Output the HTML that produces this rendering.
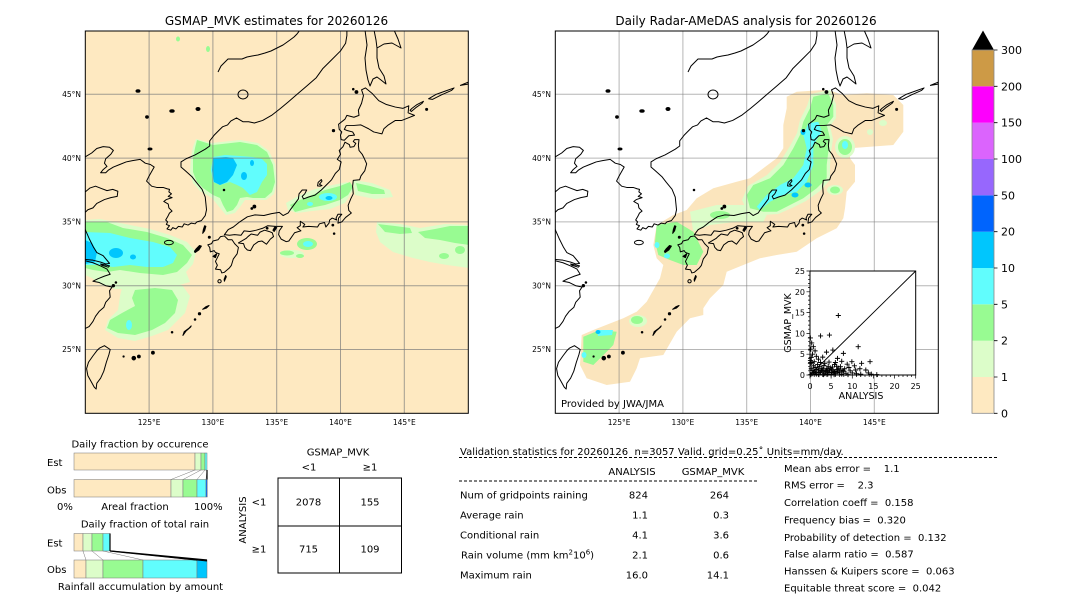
<!DOCTYPE html>
<html><head><meta charset="utf-8"><style>
html,body{margin:0;padding:0;background:#fff;}
svg{display:block;font-family:"DejaVu Sans","Liberation Sans",sans-serif;}
</style></head><body>
<svg width="1080" height="612" viewBox="0 0 1080 612" xmlns="http://www.w3.org/2000/svg" xmlns:xlink="http://www.w3.org/1999/xlink">
<defs>
<clipPath id="clipL"><rect x="85.3" y="31" width="383" height="382.3"/></clipPath>
<clipPath id="clipR"><rect x="555.3" y="31" width="383" height="382.3"/></clipPath>
<path id="pl" d="M-0.6 0H0.6M0 -0.6V0.6" stroke="#000" stroke-width="0.22" fill="none"/>
<g id="coast" fill="none" stroke="#000" stroke-linejoin="round">
 <g transform="translate(85.3,413.3) scale(12.76,-12.76) translate(-120,-20)" stroke-width="0.078">
  <polygon points="130.9,34.0 131.2,34.4 131.6,34.6 132.1,35.0 132.7,35.4 133.3,35.55 134.0,35.5 134.6,35.65 135.2,35.75 135.5,35.5 135.9,35.7 136.1,36.0 136.4,36.4 136.7,36.8 136.75,37.2 137.0,37.5 137.35,37.5 137.2,37.2 137.0,37.0 137.1,36.8 137.5,36.95 138.0,37.1 138.5,37.5 138.9,37.9 139.3,38.3 139.6,38.8 139.9,39.1 140.05,39.7 139.75,39.9 140.0,40.3 139.9,40.6 140.2,40.9 140.35,41.25 140.7,41.05 140.75,40.85 141.05,40.9 141.2,41.15 141.0,41.3 141.1,41.45 141.45,41.45 141.4,41.0 141.45,40.6 141.7,40.3 141.85,40.0 142.05,39.55 141.9,39.0 141.6,38.6 141.5,38.3 141.0,38.25 140.95,37.8 141.0,37.2 140.8,36.8 140.6,36.3 140.65,35.9 140.85,35.7 140.4,35.35 140.1,35.0 139.8,34.9 139.85,35.3 140.1,35.6 139.8,35.6 139.65,35.3 139.7,35.15 139.35,35.3 139.15,35.15 139.1,34.9 138.85,34.6 138.75,34.95 138.35,34.85 138.2,34.6 137.5,34.65 137.05,34.6 137.2,34.8 136.85,35.05 136.85,34.7 136.6,34.55 136.9,34.3 136.4,34.15 135.95,33.5 135.75,33.45 135.35,33.65 135.15,34.0 135.2,34.3 135.45,34.65 134.9,34.65 134.3,34.7 133.9,34.5 133.4,34.35 132.9,34.25 132.45,34.3 132.2,33.95 131.7,34.0 131.3,33.95"/>
  <polygon points="130.9,33.9 131.2,33.6 131.5,33.6 131.7,33.3 132.0,33.0 131.9,32.5 131.6,32.1 131.45,31.6 131.3,31.4 130.9,31.05 130.7,31.0 130.6,31.25 130.2,31.3 130.35,31.6 130.2,31.9 130.5,32.5 130.2,32.6 130.1,32.75 129.8,32.65 129.75,33.0 129.6,33.2 129.9,33.3 130.0,33.5 130.4,33.6 130.6,33.85"/>
  <polygon points="140.05,41.45 140.3,41.4 140.65,41.75 141.1,41.8 140.95,42.05 140.55,42.15 140.3,42.25 140.45,42.55 140.95,42.55 141.6,42.6 142.2,42.3 142.6,42.05 143.25,41.9 143.4,42.3 143.75,42.6 144.3,42.95 144.8,42.95 145.3,43.15 145.8,43.35 145.3,43.55 145.35,44.1 144.9,43.9 144.3,44.0 143.6,44.2 143.0,44.5 142.5,45.05 141.95,45.5 141.65,45.35 141.8,44.9 141.65,44.3 141.4,43.75 141.45,43.35 141.05,43.2 140.5,43.35 140.35,43.05 139.85,42.65 139.9,42.25 140.1,42.05 140.0,41.8"/>
  <polygon points="132.0,33.35 132.6,33.7 132.75,33.85 133.0,34.05 133.5,33.95 133.7,34.2 134.05,34.35 134.4,34.25 134.65,34.15 134.75,33.85 134.5,33.65 134.2,33.25 133.85,33.5 133.55,33.45 133.2,33.2 132.95,32.75 132.7,32.8 132.5,33.0 132.4,33.3"/>
  <polyline points="120.0,40.1 120.5,40.4 120.9,40.75 121.4,40.9 121.9,40.85 122.2,40.6 122.0,40.3 121.6,39.95 121.5,39.6 121.7,39.35 121.4,39.1 121.2,38.85 121.6,38.85 121.8,39.05 122.2,39.3 122.7,39.5 123.2,39.7 123.7,39.8 124.3,39.9 124.7,39.6 125.1,39.5 125.4,39.3 125.2,38.95 125.0,38.6 124.8,38.2 125.2,37.8 125.6,37.7 126.1,37.7 126.4,37.6 126.6,37.55 126.55,37.35 126.75,37.2 126.5,37.0 126.8,36.9 126.35,36.75 126.15,36.6 126.5,36.4 126.55,36.1 126.8,35.85 126.6,35.7 126.45,35.4 126.3,35.15 126.45,35.0 126.35,34.8 126.6,34.7 126.4,34.45 126.7,34.35 126.85,34.55 127.1,34.45 127.3,34.65 127.6,34.6 127.75,34.85 128.05,34.75 128.3,34.9 128.6,34.85 128.75,35.0 129.1,35.1 129.4,35.5 129.5,35.95 129.45,36.45 129.4,36.95 129.15,37.55 128.7,38.1 128.35,38.55 127.85,39.0 127.5,39.3 127.5,39.7 127.9,39.95 128.6,40.25 129.4,40.7 129.75,40.95 129.75,41.35 130.1,41.8 130.5,42.2 130.75,42.45 131.15,42.6 131.4,42.9 131.85,43.15 132.35,42.85 132.8,42.85 133.25,42.75 133.9,42.95 134.6,43.35 135.3,43.9 135.9,44.4 136.6,45.0 137.3,45.6 138.1,46.3 138.6,47.0 139.3,47.7 140.0,48.4 140.4,49.0 140.5,49.6 140.5,50.1"/>
  <polyline points="120.0,37.35 120.35,37.65 120.8,37.8 121.3,37.6 121.7,37.45 122.15,37.55 122.55,37.4 122.5,37.0 122.0,36.9 121.5,36.75 120.9,36.45 120.6,36.1 120.2,35.95 120.0,35.75"/>
  <polyline points="119.95,34.5 120.3,33.7 120.65,33.0 120.9,32.6 121.4,32.35 121.9,31.75 121.6,31.7 121.2,31.85 120.6,32.0 120.0,32.05"/>
  <polygon points="121.2,31.7 121.9,31.55 121.8,31.45 121.3,31.6"/>
  <polyline points="120.0,31.95 120.6,31.8 121.2,31.55 121.7,31.3 121.95,30.9 121.5,30.75 121.0,30.55 120.6,30.35 121.1,30.25 121.6,30.0 122.1,29.9 121.9,29.6 121.95,29.1 121.6,28.7 121.45,28.3 121.1,28.0 120.8,27.6 120.6,27.2 120.3,26.8 119.9,26.6"/>
  <polygon points="121.5,25.3 121.95,25.0 121.85,24.6 121.65,24.0 121.45,23.3 121.2,22.75 120.9,22.35 120.85,21.9 120.7,22.05 120.45,22.5 120.2,22.95 120.1,23.5 120.25,24.0 120.6,24.5 120.9,24.9 121.1,25.1"/>
  <ellipse cx="126.55" cy="33.38" rx="0.35" ry="0.17"/>
  <polygon points="138.2,37.82 138.25,38.1 138.5,38.32 138.55,38.2 138.35,37.95 138.55,37.85 138.4,37.8"/>
  <polygon points="145.45,43.75 145.6,43.9 146.0,44.2 146.5,44.45 146.4,44.3 145.9,43.95 145.55,43.65"/>
  <polygon points="146.9,44.65 147.5,45.0 148.2,45.25 148.9,45.5 148.7,45.3 147.9,44.95 147.2,44.6"/>
  <polygon points="149.4,45.7 150.0,45.95 150.0,45.8"/>
  <circle cx="130.52" cy="30.35" r="0.13"/>
  <g fill="#000">
   <polygon points="129.2,34.1 129.35,34.3 129.45,34.65 129.35,34.7 129.25,34.4"/>
   <circle cx="129.72" cy="33.8" r="0.08"/>
   <polygon points="128.6,32.6 128.9,32.8 129.1,33.1 128.95,33.15 128.7,32.9 128.55,32.7"/>
   <polygon points="130.0,32.3 130.3,32.5 130.2,32.2"/>
   <polygon points="130.9,30.35 131.05,30.7 131.0,30.8 130.88,30.5"/>
   <polygon points="127.65,26.1 127.9,26.45 128.25,26.75 128.3,26.85 128.1,26.65 127.75,26.4"/>
   <circle cx="126.8" cy="26.35" r="0.06"/>
   <polygon points="129.2,28.15 129.45,28.35 129.7,28.45 129.5,28.25"/>
   <circle cx="128.95" cy="27.8" r="0.09"/>
   <circle cx="128.6" cy="27.35" r="0.06"/>
   <circle cx="125.3" cy="24.75" r="0.11"/>
   <circle cx="124.2" cy="24.45" r="0.11"/>
   <circle cx="123.8" cy="24.32" r="0.14"/>
   <circle cx="123.0" cy="24.45" r="0.05"/>
   <circle cx="133.25" cy="36.2" r="0.11"/>
   <circle cx="133.05" cy="36.05" r="0.07"/>
   <circle cx="139.4" cy="34.75" r="0.07"/>
   <circle cx="139.5" cy="34.08" r="0.06"/>
   <circle cx="139.45" cy="42.15" r="0.09"/>
   <circle cx="141.25" cy="45.18" r="0.11"/>
   <circle cx="141.0" cy="45.4" r="0.06"/>
   <polygon points="134.85,34.6 135.0,34.55 134.8,34.25 134.7,34.35"/>
   <circle cx="134.25" cy="34.5" r="0.07"/>
   <circle cx="122.2" cy="30.0" r="0.09"/>
   <circle cx="122.4" cy="30.25" r="0.06"/>
   <circle cx="146.75" cy="43.82" r="0.08"/>
   <circle cx="130.87" cy="37.5" r="0.06"/>
  </g>
 </g>
 <g stroke-width="1">
  <polyline points="365,30 367,45 365,58 366,70 368,80 370,86 373,79 377,77 381,80 386,84 384,76 379,68 377,58 377,48 384,44 392,43 401,48 398,39 394,30"/>
  <polyline points="374,30 376,40 377,48"/>
  <polyline points="218,72 221,66 224,63 228,59 235,59 242,59 247,57 252,56 258,55 265,53 271,51 277,48 283,45 290,40 294,37 297,34 300,30"/>
  <ellipse cx="243" cy="94.5" rx="5" ry="4.5"/>
  <g fill="#000">
   <ellipse cx="138" cy="91" rx="2" ry="1.3"/>
   <ellipse cx="147" cy="117" rx="1.4" ry="1.2"/>
   <ellipse cx="172" cy="111" rx="2.2" ry="1.3"/>
   <ellipse cx="198" cy="109" rx="2" ry="1.5"/>
   <ellipse cx="150" cy="149" rx="2" ry="1"/>
  </g>
 </g>
</g>
</defs>

<!-- ===== LEFT MAP ===== -->
<text x="276.5" y="25" font-size="12" text-anchor="middle">GSMAP_MVK estimates for 20260126</text>
<rect x="85.3" y="31" width="383" height="382.3" fill="#fee9c1"/>
<g clip-path="url(#clipL)">
 <g fill="#dcfdc9">
  <polygon points="196,139 212,143 240,140 258,143 269,151 275,164 277,182 274,194 266,200 253,200 245,200 240,207 235,213 226,215 220,208 212,198 200,191 193,183 190,172 191,157 193,147"/>
  <polygon points="85,220 100,219 125,224 150,229 170,235 187,242 196,252 193,264 186,272 190,282 165,289 115,289 100,284 92,278 85,275"/>
  <polygon points="122,288 152,284 182,285 190,296 185,313 168,330 152,336 135,341 118,338 105,330 108,320 118,310 120,296"/>
  <polygon points="286,203 300,195 315,189 333,185 347,182 353,190 345,203 330,209 312,211 297,213 288,210"/>
  <polygon points="353,180 372,183 390,190 393,197 375,199 355,195"/>
  <polygon points="377,222 400,224 420,228 445,224 469,225 469,268 447,265 430,262 413,258 393,252 380,242 376,232"/>
  <ellipse cx="292" cy="254" rx="12" ry="4"/>
 </g>
 <g fill="#98fb92">
  <polygon points="197,140 213,145 240,142 257,145 267,152 273,165 275,182 272,192 265,198 253,198 247,197 240,198 237,205 233,210 227,212 223,205 220,198 213,195 203,188 197,182 193,172 193,158 195,148"/>
  <polygon points="85,222 107,222 123,228 147,232 167,238 183,245 192,255 187,263 177,272 163,275 140,273 120,270 107,272 93,270 85,268"/>
  <polygon points="135,290 155,288 172,290 178,300 175,313 165,323 152,330 135,335 118,333 107,328 110,320 122,313 135,306 132,298"/>
  <polygon points="290,205 300,200 312,195 325,190 340,186 350,182 353,187 348,195 340,200 325,205 310,208 295,212"/>
  <polygon points="356,183 370,186 384,190 385,194 372,194 358,191"/>
  <ellipse cx="307" cy="244" rx="10" ry="6"/>
  <ellipse cx="287" cy="253" rx="7" ry="2.5"/>
  <ellipse cx="300" cy="256" rx="4" ry="2"/>
  <polygon points="378,224 395,226 410,228 412,233 400,234 385,232"/>
  <polygon points="418,232 435,229 450,226 469,226 469,245 455,243 440,240 425,238"/>
  <ellipse cx="444" cy="256" rx="5" ry="3"/>
  <ellipse cx="460" cy="250" rx="5" ry="4"/>
  <ellipse cx="178" cy="39" rx="2" ry="2.5"/>
  <ellipse cx="208" cy="49" rx="2" ry="3"/>
 </g>
 <g fill="#61fdfd">
  <polygon points="213,157 225,155 240,156 253,157 262,159 267,164 267,175 262,182 257,192 250,195 243,188 237,185 230,182 220,185 213,182 211,170"/>
  <polygon points="85,232 110,233 130,238 153,242 170,247 177,255 173,263 163,267 147,267 130,265 113,267 100,265 85,265"/>
  <ellipse cx="129" cy="325" rx="3" ry="5"/>
  <ellipse cx="328" cy="197" rx="9" ry="4"/>
  <ellipse cx="310" cy="204" rx="3" ry="2"/>
  <ellipse cx="308" cy="244" rx="5" ry="3"/>
 </g>
 <g fill="#00c6fd">
  <polygon points="213,158 226,157 233,158 237,165 233,175 227,182 220,185 214,182 212,170"/>
  <ellipse cx="244" cy="176" rx="3" ry="4"/>
  <ellipse cx="252" cy="163" rx="2" ry="3"/>
  <ellipse cx="116" cy="253" rx="7" ry="5"/>
  <ellipse cx="133" cy="257" rx="3" ry="2.5"/>
  <polygon points="85,240 92,243 97,252 95,262 85,264"/>
  <ellipse cx="329" cy="198" rx="3.5" ry="2"/>
 </g>
 <g stroke="#7a7a7a" stroke-opacity="0.7" stroke-width="1">
  <line x1="149.1" y1="31" x2="149.1" y2="414"/><line x1="212.9" y1="31" x2="212.9" y2="414"/><line x1="276.7" y1="31" x2="276.7" y2="414"/><line x1="340.5" y1="31" x2="340.5" y2="414"/><line x1="404.3" y1="31" x2="404.3" y2="414"/>
  <line x1="85" y1="94.3" x2="469" y2="94.3"/><line x1="85" y1="158.1" x2="469" y2="158.1"/><line x1="85" y1="221.9" x2="469" y2="221.9"/><line x1="85" y1="285.7" x2="469" y2="285.7"/><line x1="85" y1="349.5" x2="469" y2="349.5"/>
 </g>
 <use xlink:href="#coast" href="#coast"/>
</g>
<rect x="85.3" y="31" width="383" height="382.3" fill="none" stroke="#000" stroke-width="1"/>
<g font-size="7.5" text-anchor="end">
 <text x="81" y="97">45°N</text><text x="81" y="161">40°N</text><text x="81" y="224.6">35°N</text><text x="81" y="288.4">30°N</text><text x="81" y="352.2">25°N</text>
</g>
<g font-size="7.5" text-anchor="middle">
 <text x="149.1" y="425">125°E</text><text x="212.9" y="425">130°E</text><text x="276.7" y="425">135°E</text><text x="340.5" y="425">140°E</text><text x="404.3" y="425">145°E</text>
</g>

<!-- ===== RIGHT MAP ===== -->
<text x="746" y="25" font-size="12" text-anchor="middle">Daily Radar-AMeDAS analysis for 20260126</text>
<rect x="555.3" y="31" width="383" height="382.3" fill="#fff"/>
<g clip-path="url(#clipR)">
 <polygon fill="#fbe5bd" points="786.7,96.7 796.7,91.7 823.3,90 833.3,91.7 843.3,95 866.7,93.3 893.3,95 903.3,105 903.3,131.7 893.3,145 870,146.7 850,148.3 850,158.3 855,165 855,181.7 846.7,191.7 845,208.3 843.3,218.3 836.7,228.3 816.7,238.3 796.7,251.7 776.7,255 760,258.3 743.3,265 726.7,271.7 723.3,285 710,298.3 703.3,308.3 703.3,315 690,318.3 676.7,331.7 663.3,355 640,358.3 636.7,368.3 630,381.7 606.7,385 586.7,378.3 580,365 581.7,335 593.3,330 623.3,318.3 636.7,311.7 646.7,301.7 660,278.3 663.3,265 656.7,258.3 653.3,245 656.7,225 673.3,215 686.7,210 696.7,198.3 713.3,188.3 736.7,181.7 750,178.3 763.3,168.3 776.7,158.3 783.3,148.3 783.3,125 786.7,108.3"/>
 <g fill="#dcfdc9">
  <polygon points="811,94 830,90 836,104 836,118 830,126 833,139 831,152 830,166 830,180 820,191 806,201 792,208 778,214 763,215 748,213 742,200 748,186 767,175 780,162 790,146 797,133 800,120 807,106"/>
  <polygon points="690,211.7 716.7,205 750,205 766.7,215 763.3,221.7 736.7,221.7 710,225 693.3,231.7"/>
  <ellipse cx="883" cy="123" rx="4" ry="3"/>
  <ellipse cx="870" cy="132" rx="3" ry="3"/>
  <ellipse cx="845" cy="147" rx="10" ry="11"/>
  <ellipse cx="835" cy="190" rx="8" ry="5"/>
  <ellipse cx="638" cy="321" rx="9" ry="6"/>
 </g>
 <g fill="#98fb92">
  <polygon points="813.3,96.7 828.3,93.3 833.3,105 833.3,116.7 826.7,125 830,138.3 828.3,151.7 826.7,165 826.7,178.3 816.7,188.3 803.3,198.3 790,205 776.7,211.7 763.3,211.7 750,208.3 746.7,195 753.3,185 770,178.3 783.3,165 793.3,148.3 800,135 803.3,121.7 810,108.3"/>
  <ellipse cx="845" cy="147" rx="7" ry="8"/>
  <ellipse cx="835" cy="190" rx="5" ry="3.5"/>
  <polygon points="656.7,225 676.7,221.7 693.3,231.7 703.3,251.7 696.7,265 683.3,265 670,260 658.3,255 655,241.7"/>
  <ellipse cx="637" cy="320" rx="6" ry="4"/>
  <polygon points="583.3,336.7 600,330 616.7,331.7 613.3,345 606.7,351.7 593.3,365 583.3,361.7"/>
  <ellipse cx="720" cy="215" rx="10" ry="4"/>
 </g>
 <g fill="#61fdfd">
  <polygon points="808.3,123.3 818.3,121.7 821.7,131.7 813.3,145 813.3,165 806.7,181.7 796.7,191.7 783.3,195 770,201.7 760,210 756.7,206.7 766.7,195 780,185 793.3,178.3 803.3,165 806.7,148.3 803.3,135"/>
  <ellipse cx="845" cy="145" rx="3" ry="4"/>
  <ellipse cx="657" cy="245" rx="2.5" ry="3"/>
  <ellipse cx="667" cy="256" rx="3" ry="2.5"/>
  <polygon points="597,330 613,330 612,335 598,336"/>
  <ellipse cx="584" cy="355" rx="2.5" ry="3"/>
 </g>
 <g fill="#00c6fd">
  <ellipse cx="803" cy="132" rx="2.5" ry="3"/>
  <ellipse cx="808" cy="185" rx="3.5" ry="2.5"/>
  <ellipse cx="795" cy="195" rx="3.5" ry="2.5"/>
  <ellipse cx="598" cy="332" rx="2.5" ry="2"/>
 </g>
 <g stroke="#7a7a7a" stroke-opacity="0.55" stroke-width="1">
  <line x1="619.1" y1="31" x2="619.1" y2="414"/><line x1="682.9" y1="31" x2="682.9" y2="414"/><line x1="746.7" y1="31" x2="746.7" y2="414"/><line x1="810.5" y1="31" x2="810.5" y2="414"/><line x1="874.3" y1="31" x2="874.3" y2="414"/>
  <line x1="555" y1="94.3" x2="939" y2="94.3"/><line x1="555" y1="158.1" x2="939" y2="158.1"/><line x1="555" y1="221.9" x2="939" y2="221.9"/><line x1="555" y1="285.7" x2="939" y2="285.7"/><line x1="555" y1="349.5" x2="939" y2="349.5"/>
 </g>
 <use xlink:href="#coast" href="#coast" transform="translate(470,0)"/>
</g>
<rect x="555.3" y="31" width="383" height="382.3" fill="none" stroke="#000" stroke-width="1"/>
<g font-size="7.5" text-anchor="end">
 <text x="551" y="97">45°N</text><text x="551" y="161">40°N</text><text x="551" y="224.6">35°N</text><text x="551" y="288.4">30°N</text><text x="551" y="352.2">25°N</text>
</g>
<g font-size="7.5" text-anchor="middle">
 <text x="619.1" y="425">125°E</text><text x="682.9" y="425">130°E</text><text x="746.7" y="425">135°E</text><text x="810.5" y="425">140°E</text><text x="874.3" y="425">145°E</text>
</g>
<text x="561" y="407" font-size="10">Provided by JWA/JMA</text>

<!-- inset scatter -->
<rect x="810" y="271" width="105.7" height="104" fill="#fff" stroke="#000" stroke-width="1"/>
<line x1="810" y1="375" x2="915.7" y2="271" stroke="#000" stroke-width="0.9"/>
<g stroke="#000" stroke-width="0.7">
 <path d="M810 375v3.5M831.1 375v3.5M852.3 375v3.5M873.4 375v3.5M894.6 375v3.5M915.7 375v3.5"/>
 <path d="M810 375h-3.5M810 354.2h-3.5M810 333.4h-3.5M810 312.6h-3.5M810 291.8h-3.5M810 271h-3.5"/>
 <path d="M814.2 375v2M818.5 375v2M822.7 375v2M826.9 375v2M835.4 375v2M839.6 375v2M843.8 375v2M848 375v2M856.5 375v2M860.7 375v2M865 375v2M869.2 375v2M877.6 375v2M881.9 375v2M886.1 375v2M890.3 375v2M898.8 375v2M903 375v2M907.2 375v2M911.5 375v2"/>
 <path d="M810 370.8h-2M810 366.7h-2M810 362.5h-2M810 358.4h-2M810 350h-2M810 345.9h-2M810 341.7h-2M810 337.6h-2M810 329.2h-2M810 325.1h-2M810 320.9h-2M810 316.8h-2M810 308.4h-2M810 304.3h-2M810 300.1h-2M810 296h-2M810 287.6h-2M810 283.5h-2M810 279.3h-2M810 275.2h-2"/>
</g>
<g font-size="8" text-anchor="middle">
 <text x="810" y="389">0</text><text x="831.1" y="389">5</text><text x="852.3" y="389">10</text><text x="873.4" y="389">15</text><text x="894.6" y="389">20</text><text x="915.7" y="389">25</text>
</g>
<g font-size="8" text-anchor="end">
 <text x="805" y="378">0</text><text x="805" y="357.2">5</text><text x="805" y="336.4">10</text><text x="805" y="315.6">15</text><text x="805" y="294.8">20</text><text x="805" y="274">25</text>
</g>
<text x="861" y="399" font-size="9.5" text-anchor="middle">ANALYSIS</text>
<text transform="translate(791,323) rotate(-90)" font-size="9.5" text-anchor="middle">GSMAP_MVK</text>
<g transform="translate(810,375) scale(4.228,-4.16)">
 <use href="#pl" xlink:href="#pl" x="6.7" y="14.3"/><use href="#pl" xlink:href="#pl" x="2.5" y="9.4"/><use href="#pl" xlink:href="#pl" x="4.6" y="9.6"/><use href="#pl" xlink:href="#pl" x="11.4" y="6.8"/><use href="#pl" xlink:href="#pl" x="7.9" y="5.2"/><use href="#pl" xlink:href="#pl" x="5.4" y="6.0"/><use href="#pl" xlink:href="#pl" x="0.8" y="6.8"/><use href="#pl" xlink:href="#pl" x="14.2" y="3.2"/><use href="#pl" xlink:href="#pl" x="12.2" y="2.8"/><use href="#pl" xlink:href="#pl" x="15.8" y="0.1"/><use href="#pl" xlink:href="#pl" x="9.9" y="3.2"/><use href="#pl" xlink:href="#pl" x="0.1" y="8.9"/><use href="#pl" xlink:href="#pl" x="0.4" y="7.7"/><use href="#pl" xlink:href="#pl" x="0.2" y="6.2"/><use href="#pl" xlink:href="#pl" x="1.2" y="5.8"/><use href="#pl" xlink:href="#pl" x="3.9" y="5.5"/><use href="#pl" xlink:href="#pl" x="6.5" y="4.0"/><use href="#pl" xlink:href="#pl" x="8.8" y="2.6"/><use href="#pl" xlink:href="#pl" x="10.5" y="2.2"/><use href="#pl" xlink:href="#pl" x="11.8" y="1.5"/><use href="#pl" xlink:href="#pl" x="13.2" y="1.2"/><use href="#pl" xlink:href="#pl" x="9.5" y="1.0"/><use href="#pl" xlink:href="#pl" x="7.2" y="2.0"/><use href="#pl" xlink:href="#pl" x="5.8" y="2.5"/><use href="#pl" xlink:href="#pl" x="3.0" y="4.3"/><use href="#pl" xlink:href="#pl" x="2.0" y="3.8"/><use href="#pl" xlink:href="#pl" x="1.5" y="4.5"/><use href="#pl" xlink:href="#pl" x="0.6" y="5.0"/><use href="#pl" xlink:href="#pl" x="0.3" y="4.2"/><use href="#pl" xlink:href="#pl" x="0.1" y="3.5"/>
 <use href="#pl" xlink:href="#pl" x="0.5" y="0.3"/><use href="#pl" xlink:href="#pl" x="1" y="0.8"/><use href="#pl" xlink:href="#pl" x="1.5" y="0.2"/><use href="#pl" xlink:href="#pl" x="2" y="1.2"/><use href="#pl" xlink:href="#pl" x="2.5" y="0.5"/><use href="#pl" xlink:href="#pl" x="3" y="0.9"/><use href="#pl" xlink:href="#pl" x="3.5" y="0.3"/><use href="#pl" xlink:href="#pl" x="4" y="1.5"/><use href="#pl" xlink:href="#pl" x="4.5" y="0.6"/><use href="#pl" xlink:href="#pl" x="5" y="0.2"/><use href="#pl" xlink:href="#pl" x="5.5" y="1.0"/><use href="#pl" xlink:href="#pl" x="6" y="0.4"/><use href="#pl" xlink:href="#pl" x="6.5" y="1.3"/><use href="#pl" xlink:href="#pl" x="7" y="0.7"/><use href="#pl" xlink:href="#pl" x="7.5" y="0.2"/><use href="#pl" xlink:href="#pl" x="8" y="0.9"/><use href="#pl" xlink:href="#pl" x="8.5" y="0.4"/><use href="#pl" xlink:href="#pl" x="9" y="0.1"/><use href="#pl" xlink:href="#pl" x="10" y="0.5"/><use href="#pl" xlink:href="#pl" x="11" y="0.3"/><use href="#pl" xlink:href="#pl" x="12" y="0.2"/><use href="#pl" xlink:href="#pl" x="0.3" y="1.5"/><use href="#pl" xlink:href="#pl" x="0.8" y="2.2"/><use href="#pl" xlink:href="#pl" x="1.2" y="1.8"/><use href="#pl" xlink:href="#pl" x="1.8" y="2.5"/><use href="#pl" xlink:href="#pl" x="2.3" y="2.0"/><use href="#pl" xlink:href="#pl" x="2.8" y="1.6"/><use href="#pl" xlink:href="#pl" x="3.3" y="2.3"/><use href="#pl" xlink:href="#pl" x="3.8" y="1.1"/><use href="#pl" xlink:href="#pl" x="4.3" y="2.0"/><use href="#pl" xlink:href="#pl" x="4.8" y="1.7"/><use href="#pl" xlink:href="#pl" x="5.3" y="1.9"/><use href="#pl" xlink:href="#pl" x="5.8" y="0.8"/><use href="#pl" xlink:href="#pl" x="6.3" y="2.1"/><use href="#pl" xlink:href="#pl" x="6.8" y="1.6"/><use href="#pl" xlink:href="#pl" x="7.3" y="1.2"/><use href="#pl" xlink:href="#pl" x="0.2" y="0.1"/><use href="#pl" xlink:href="#pl" x="0.7" y="1.1"/><use href="#pl" xlink:href="#pl" x="1.3" y="0.5"/><use href="#pl" xlink:href="#pl" x="2.1" y="0.1"/><use href="#pl" xlink:href="#pl" x="2.7" y="1.1"/><use href="#pl" xlink:href="#pl" x="3.2" y="0.1"/><use href="#pl" xlink:href="#pl" x="3.7" y="0.7"/><use href="#pl" xlink:href="#pl" x="4.2" y="0.2"/><use href="#pl" xlink:href="#pl" x="4.7" y="1.2"/><use href="#pl" xlink:href="#pl" x="5.2" y="0.6"/><use href="#pl" xlink:href="#pl" x="5.7" y="0.1"/><use href="#pl" xlink:href="#pl" x="6.2" y="0.9"/><use href="#pl" xlink:href="#pl" x="0.1" y="2.8"/><use href="#pl" xlink:href="#pl" x="0.4" y="3.0"/><use href="#pl" xlink:href="#pl" x="1.0" y="3.2"/><use href="#pl" xlink:href="#pl" x="9.2" y="1.8"/><use href="#pl" xlink:href="#pl" x="8.2" y="1.5"/><use href="#pl" xlink:href="#pl" x="10.8" y="1.2"/><use href="#pl" xlink:href="#pl" x="6.0" y="3.0"/><use href="#pl" xlink:href="#pl" x="7.5" y="3.3"/><use href="#pl" xlink:href="#pl" x="4.5" y="3.1"/><use href="#pl" xlink:href="#pl" x="3.5" y="2.8"/><use href="#pl" xlink:href="#pl" x="2.5" y="3.0"/><use href="#pl" xlink:href="#pl" x="13.8" y="0.5"/><use href="#pl" xlink:href="#pl" x="14.5" y="0.2"/><use href="#pl" xlink:href="#pl" x="1.6" y="1.4"/><use href="#pl" xlink:href="#pl" x="0.9" y="0.6"/><use href="#pl" xlink:href="#pl" x="2.2" y="0.7"/><use href="#pl" xlink:href="#pl" x="3.1" y="1.4"/><use href="#pl" xlink:href="#pl" x="4.1" y="0.9"/><use href="#pl" xlink:href="#pl" x="5.1" y="1.4"/><use href="#pl" xlink:href="#pl" x="6.6" y="0.5"/><use href="#pl" xlink:href="#pl" x="7.8" y="1.0"/>
</g>

<!-- ===== COLORBAR ===== -->
<g stroke="none">
 <rect x="972" y="377" width="22" height="36.3" fill="#fee9c1"/>
 <rect x="972" y="340.7" width="22" height="36.3" fill="#dcfdc9"/>
 <rect x="972" y="304.3" width="22" height="36.4" fill="#98fb92"/>
 <rect x="972" y="268" width="22" height="36.3" fill="#61fdfd"/>
 <rect x="972" y="231.7" width="22" height="36.3" fill="#00c6fd"/>
 <rect x="972" y="195.3" width="22" height="36.4" fill="#0064fd"/>
 <rect x="972" y="159" width="22" height="36.3" fill="#9767fd"/>
 <rect x="972" y="122.7" width="22" height="36.3" fill="#db64fd"/>
 <rect x="972" y="86.3" width="22" height="36.4" fill="#fd00fd"/>
 <rect x="972" y="50" width="22" height="36.3" fill="#cd9a46"/>
</g>
<polygon points="972,50 994,50 983,30.5" fill="#000"/>
<rect x="972" y="50" width="22" height="363.3" fill="none" stroke="#888" stroke-width="0.8"/>
<g stroke="#000" stroke-width="0.8">
 <path d="M994 413.3h3.5M994 377h3.5M994 340.7h3.5M994 304.3h3.5M994 268h3.5M994 231.7h3.5M994 195.3h3.5M994 159h3.5M994 122.7h3.5M994 86.3h3.5M994 50h3.5"/>
</g>
<g font-size="11">
 <text x="1001" y="417.3">0</text><text x="1001" y="381">1</text><text x="1001" y="344.7">2</text><text x="1001" y="308.3">5</text><text x="1001" y="272">10</text><text x="1001" y="235.7">20</text><text x="1001" y="199.3">50</text><text x="1001" y="163">100</text><text x="1001" y="126.7">150</text><text x="1001" y="90.3">200</text><text x="1001" y="54">300</text>
</g>

<!-- ===== BOTTOM LEFT CHARTS ===== -->
<g font-size="10">
 <text x="140" y="447.5" text-anchor="middle">Daily fraction by occurence</text>
 <text x="47" y="466">Est</text>
 <text x="47" y="493.5">Obs</text>
 <text x="57" y="510">0%</text>
 <text x="135" y="510" text-anchor="middle">Areal fraction</text>
 <text x="194" y="510">100%</text>
 <text x="145" y="527.5" text-anchor="middle">Daily fraction of total rain</text>
 <text x="47" y="546.5">Est</text>
 <text x="47" y="573">Obs</text>
 <text x="140.5" y="590" text-anchor="middle">Rainfall accumulation by amount</text>
</g>
<g stroke="#777" stroke-width="0.5">
 <rect x="74" y="453" width="121" height="17" fill="#fee9c1"/>
 <rect x="195" y="453" width="6" height="17" fill="#dcfdc9"/>
 <rect x="201" y="453" width="4" height="17" fill="#98fb92"/>
 <rect x="205" y="453" width="2" height="17" fill="#61fdfd"/>
 <rect x="74" y="479.5" width="97" height="17.5" fill="#fee9c1"/>
 <rect x="171" y="479.5" width="12" height="17.5" fill="#dcfdc9"/>
 <rect x="183" y="479.5" width="14" height="17.5" fill="#98fb92"/>
 <rect x="197" y="479.5" width="9" height="17.5" fill="#61fdfd"/>
 <rect x="206" y="479.5" width="1.3" height="17.5" fill="#0064fd"/>
 <path d="M195 470L171 479.5M201 470L183 479.5M205 470L197 479.5M207 470L206 479.5" fill="none"/>
 <rect x="74" y="533.5" width="9" height="17.5" fill="#fee9c1"/>
 <rect x="83" y="533.5" width="9" height="17.5" fill="#dcfdc9"/>
 <rect x="92" y="533.5" width="11" height="17.5" fill="#98fb92"/>
 <rect x="103" y="533.5" width="7" height="17.5" fill="#61fdfd"/>
 <rect x="74" y="560" width="12" height="18" fill="#fee9c1"/>
 <rect x="86" y="560" width="17" height="18" fill="#dcfdc9"/>
 <rect x="103" y="560" width="40" height="18" fill="#98fb92"/>
 <rect x="143" y="560" width="54" height="18" fill="#61fdfd"/>
 <rect x="197" y="560" width="10" height="18" fill="#00c6fd"/>
 <path d="M83 551L86 560M92 551L103 560M103 551L143 560" fill="none"/>
</g>
<path d="M207 470V479.5" stroke="#000" stroke-width="1.2"/>
<path d="M110 533.5V551" stroke="#000" stroke-width="1.2"/>
<path d="M110 551L197 560M110.5 551L207 560" stroke="#000" stroke-width="1.2" fill="none"/>
<path d="M111 551L207 561" stroke="#000" stroke-width="1" fill="none"/>

<!-- ===== CONTINGENCY TABLE ===== -->
<g font-size="10" text-anchor="middle">
 <text x="338" y="455.5">GSMAP_MVK</text>
 <text x="309" y="470.5">&lt;1</text>
 <text x="370" y="470.5">≥1</text>
 <text x="259" y="505.5">&lt;1</text>
 <text x="259" y="552.5">≥1</text>
 <text x="308.5" y="505.5">2078</text>
 <text x="370" y="505.5">155</text>
 <text x="308.5" y="552.5">715</text>
 <text x="370" y="552.5">109</text>
 <text transform="translate(246,520) rotate(-90)">ANALYSIS</text>
</g>
<rect x="278" y="478" width="123.5" height="95" fill="none" stroke="#000" stroke-width="1"/>
<line x1="339.5" y1="478" x2="339.5" y2="573" stroke="#000" stroke-width="1"/>
<line x1="278" y1="526" x2="401.5" y2="526" stroke="#000" stroke-width="1"/>

<!-- ===== STATS ===== -->
<g font-size="10">
 <text x="460" y="455">Validation statistics for 20260126&#160;&#160;n=3057 Valid. grid=0.25˚ Units=mm/day.</text>
 <text x="632" y="475" text-anchor="middle">ANALYSIS</text>
 <text x="713" y="475" text-anchor="middle">GSMAP_MVK</text>
 <text x="460" y="498.5">Num of gridpoints raining</text>
 <text x="460" y="518.5">Average rain</text>
 <text x="460" y="538.5">Conditional rain</text>
 <text x="461" y="558.5">Rain volume (mm km<tspan font-size="7" dy="-4">2</tspan><tspan dy="4">10</tspan><tspan font-size="7" dy="-4">6</tspan><tspan dy="4">)</tspan></text>
 <text x="460" y="578.5">Maximum rain</text>
 <text x="648" y="498.5" text-anchor="end">824</text>
 <text x="648" y="518.5" text-anchor="end">1.1</text>
 <text x="648" y="538.5" text-anchor="end">4.1</text>
 <text x="648" y="558.5" text-anchor="end">2.1</text>
 <text x="648" y="578.5" text-anchor="end">16.0</text>
 <text x="729" y="498.5" text-anchor="end">264</text>
 <text x="729" y="518.5" text-anchor="end">0.3</text>
 <text x="729" y="538.5" text-anchor="end">3.6</text>
 <text x="729" y="558.5" text-anchor="end">0.6</text>
 <text x="729" y="578.5" text-anchor="end">14.1</text>
 <text x="784" y="472">Mean abs error =&#160;&#160;&#160;&#160;1.1</text>
 <text x="784" y="488.5">RMS error =&#160;&#160;&#160;&#160;2.3</text>
 <text x="784" y="506">Correlation coeff =&#160;&#160;0.158</text>
 <text x="784" y="523.5">Frequency bias =&#160;&#160;0.320</text>
 <text x="784" y="541">Probability of detection =&#160;&#160;0.132</text>
 <text x="784" y="557.5">False alarm ratio =&#160;&#160;0.587</text>
 <text x="784" y="574.5">Hanssen &amp; Kuipers score =&#160;&#160;0.063</text>
 <text x="784" y="591.5">Equitable threat score =&#160;&#160;0.042</text>
</g>
<line x1="459" y1="457.5" x2="997" y2="457.5" stroke="#000" stroke-width="0.9" stroke-dasharray="3,2"/>
<line x1="459" y1="481" x2="757" y2="481" stroke="#000" stroke-width="0.9" stroke-dasharray="3,2"/>
</svg>
</body></html>
